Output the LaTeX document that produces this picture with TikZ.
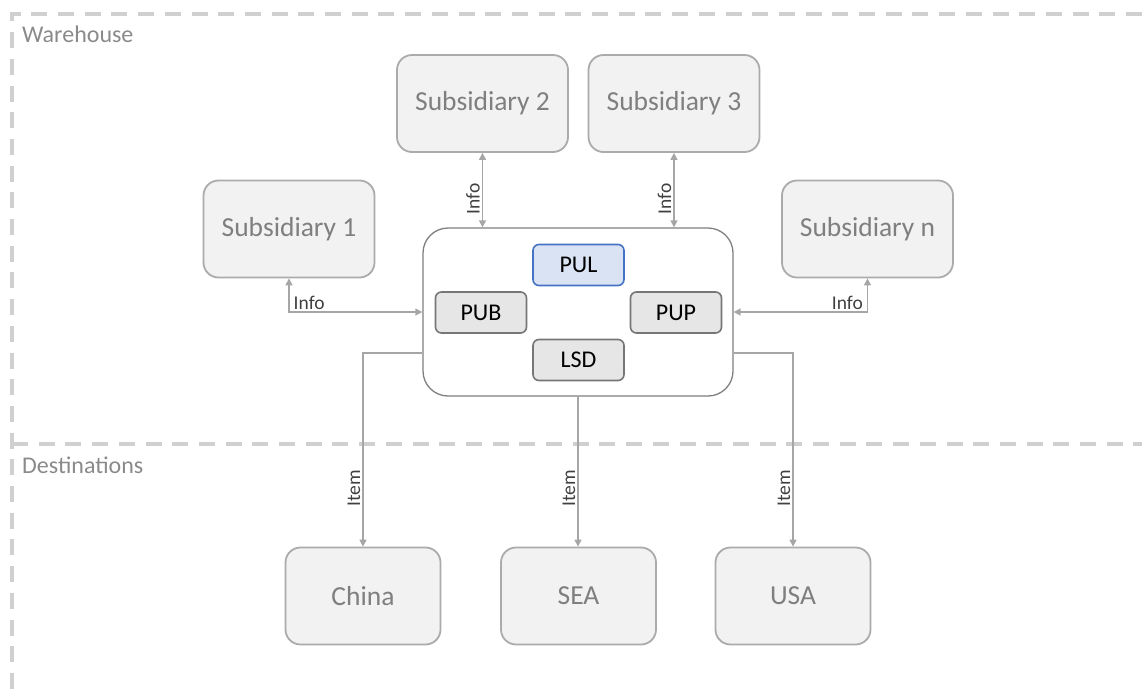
\documentclass[tikz,border=0pt]{standalone}
\usepackage{fontspec}
\setmainfont{Carlito}
\usetikzlibrary{arrows.meta}
\definecolor{framegray}{HTML}{D0D0D0}
\definecolor{boxfill}{HTML}{F2F2F2}
\definecolor{boxline}{HTML}{ABABAB}
\definecolor{boxtext}{HTML}{7F7F7F}
\definecolor{innerfill}{HTML}{E6E6E6}
\definecolor{innerline}{HTML}{767676}
\definecolor{pulfill}{HTML}{DAE3F3}
\definecolor{pulline}{HTML}{4472C4}
\definecolor{hubline}{HTML}{7F7F7F}
\definecolor{linkgray}{HTML}{A6A6A6}
\definecolor{labelgray}{HTML}{404040}
\definecolor{regiongray}{HTML}{8A8A8A}
\tikzset{
  region/.style={draw=framegray, line width=3.5pt, dash pattern=on 16pt off 10.7pt},
  regionlabel/.style={inner sep=0pt, anchor=base west, text=regiongray, font=\fontsize{24}{26}\selectfont},
  unit/.style={draw=boxline, fill=boxfill, line width=1.8pt, rounded corners=15pt,
    text=boxtext, font=\fontsize{27.5}{30}\selectfont, minimum width=171pt, minimum height=97pt, inner sep=0pt},
  dest/.style={unit, minimum width=155pt},
  hubbox/.style={draw=hubline, fill=white, line width=1.3pt, rounded corners=25pt,
    minimum width=310pt, minimum height=168pt, inner sep=0pt},
  module/.style={draw=innerline, fill=innerfill, line width=1.6pt, rounded corners=6pt,
    text=black, font=\fontsize{24}{26}\selectfont, minimum width=91pt, minimum height=41pt, inner sep=0pt},
  link/.style={draw=linkgray, line width=1.4pt, -{Triangle[width=7pt,length=7pt]}},
  twoway/.style={link, {Triangle[width=7pt,length=7pt]}-{Triangle[width=7pt,length=7pt]}},
  flowlabel/.style={text=labelgray, font=\fontsize{19.5}{21}\selectfont, inner sep=2pt},
}
\begin{document}
\begin{tikzpicture}[x=1pt, y=-1pt]
  \useasboundingbox (0,0) rectangle (1142,697);

  % region frames
  \draw[region] (1142,14) -- (12,14) -- (12,697);
  \draw[region] (12,444) -- (1142,444);
  \node[regionlabel] (whlabel) at (22,42) {Warehouse};
  \node[regionlabel] (dstlabel) at (22,473) {Destinations};

  % central system and its modules
  \node[hubbox] (hub) at (578,312) {};
  \node[module, draw=pulline, fill=pulfill] (pul) at (578.5,265) {PUL};
  \node[module] (pub) at (481,312.5) {PUB};
  \node[module] (pup) at (676,312.5) {PUP};
  \node[module] (lsd) at (578.5,360) {LSD};

  % subsidiaries
  \node[unit] (sub1) at (289,229) {Subsidiary 1};
  \node[unit] (sub2) at (482.5,103.5) {Subsidiary 2};
  \node[unit] (sub3) at (674,103.5) {Subsidiary 3};
  \node[unit] (subn) at (867.5,229) {Subsidiary n};

  % destinations
  \node[dest] (china) at (363,596) {China};
  \node[dest] (sea) at (578.5,596) {SEA};
  \node[dest] (usa) at (793,596) {USA};

  % information exchange
  \draw[twoway] (sub1.south) |- node[flowlabel, pos=0.5, anchor=south west, xshift=2pt] {Info} (hub.west);
  \draw[twoway] (subn.south) |- node[flowlabel, pos=0.5, anchor=south east, xshift=-2pt] {Info} (hub.east);
  \draw[twoway] (sub2.south) -- node[flowlabel, pos=0.62, rotate=90, anchor=south] {Info} (sub2.south |- hub.north);
  \draw[twoway] (sub3.south) -- node[flowlabel, pos=0.62, rotate=90, anchor=south] {Info} (sub3.south |- hub.north);

  % item shipments
  \coordinate (outw) at ([yshift=-41pt]hub.west);
  \coordinate (oute) at ([yshift=-41pt]hub.east);
  \draw[link] (outw) -| node[flowlabel, pos=0.85, rotate=90, anchor=south] {Item} (china.north);
  \draw[link] (hub.south) -- node[flowlabel, pos=0.61, rotate=90, anchor=south] {Item} (hub.south |- sea.north);
  \draw[link] (oute) -| node[flowlabel, pos=0.85, rotate=90, anchor=south] {Item} (usa.north);
\end{tikzpicture}
\end{document}
